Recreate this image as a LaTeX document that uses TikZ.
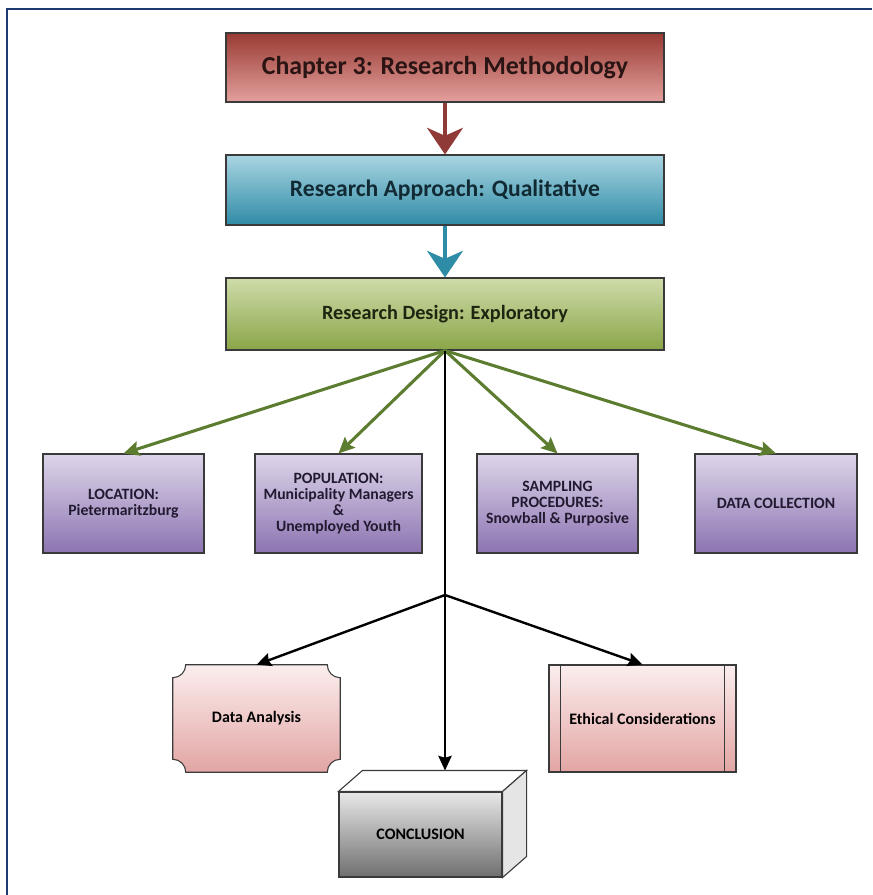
\documentclass[tikz,border=0pt]{standalone}
\usepackage{fontspec}
\setmainfont{Carlito}
\usetikzlibrary{arrows.meta,calc,backgrounds}
\definecolor{frameblue}{HTML}{1F3A72}
\definecolor{chaptop}{HTML}{9A3B34}
\definecolor{chapbot}{HTML}{E3A09D}
\definecolor{chaptext}{HTML}{2B1414}
\definecolor{apprtop}{HTML}{A9D5E2}
\definecolor{apprbot}{HTML}{2F8BA6}
\definecolor{apprtext}{HTML}{112A33}
\definecolor{destop}{HTML}{CFDCAA}
\definecolor{desbot}{HTML}{8AA548}
\definecolor{destext}{HTML}{1C2610}
\definecolor{purtop}{HTML}{DDD5EA}
\definecolor{purbot}{HTML}{8C74B1}
\definecolor{purtext}{HTML}{221A30}
\definecolor{pinktop}{HTML}{FBEEEE}
\definecolor{pinkbot}{HTML}{E2A5A3}
\definecolor{graytop}{HTML}{E8E8E8}
\definecolor{graybot}{HTML}{6F6F6F}
\definecolor{arrred}{HTML}{8F3A36}
\definecolor{arrteal}{HTML}{2F8CA6}
\definecolor{arrgreen}{HTML}{5C7C30}
\definecolor{edge}{HTML}{3A3A3A}
\begin{document}
\begin{tikzpicture}[x=0.75pt,y=-0.75pt,
  box/.style={draw=edge, line width=0.8pt, inner sep=2pt, align=center},
  topbox/.style={box, minimum width=328.5pt, minimum height=52.5pt},
  purbox/.style={box, top color=purtop, bottom color=purbot, minimum height=74.25pt,
     text=purtext, font=\bfseries\fontsize{11.8}{12}\selectfont},
  bigarrow/.style={line width=2.3pt, -{Stealth[length=20pt,width=27pt,inset=6pt]}},
  greenarrow/.style={draw=arrgreen, line width=2.3pt, -{Stealth[length=12pt,width=11pt,inset=2pt]}},
  blackarrow/.style={draw=black, line width=1.8pt, -{Stealth[length=11pt,width=10pt,inset=1.5pt]}}
]
\useasboundingbox (0,0) rectangle (872,895);
\begin{scope}[on background layer]
\fill[white] (0,0) rectangle (872,895);
\end{scope}
\draw[frameblue, line width=2pt] (7,895) -- (7,9) -- (872,9);

% top chain
\node[topbox, top color=chaptop, bottom color=chapbot, minimum height=51.75pt,
  text=chaptext, font=\bfseries\fontsize{19.4}{22}\selectfont] (chap) at (445,67.5)
  {Chapter 3: Research Methodology};
\node[topbox, top color=apprtop, bottom color=apprbot,
  text=apprtext, font=\bfseries\fontsize{17.7}{20}\selectfont] (appr) at (445,190)
  {Research Approach: Qualitative};
\node[topbox, top color=destop, bottom color=desbot, minimum height=54pt,
  text=destext, font=\bfseries\fontsize{15.2}{18}\selectfont] (design) at (445,314)
  {Research Design: Exploratory};

\draw[bigarrow, arrred] (chap.south) -- (appr.north);
\draw[bigarrow, arrteal] (appr.south) -- (design.north);

% purple row
\node[purbox, minimum width=120.75pt] (loc) at (123.5,503.5) {LOCATION:\\Pietermaritzburg};
\node[purbox, minimum width=125.25pt] (pop) at (338.5,503.5) {POPULATION:\\Municipality Managers\\\&\\Unemployed Youth};
\node[purbox, minimum width=120.75pt] (samp) at (557.5,503.5) {SAMPLING\\PROCEDURES:\\Snowball \& Purposive};
\node[purbox, minimum width=121.5pt] (dcoll) at (776,503.5) {DATA COLLECTION};

\foreach \t in {loc,pop,samp,dcoll}
  \draw[greenarrow] (design.south) -- (\t.north);

% bottom row
\node[inner sep=0pt, minimum width=125.25pt, minimum height=80.25pt,
  font=\bfseries\fontsize{12}{14}\selectfont] (anal) at (256.5,718.5) {Data Analysis};
\begin{scope}[on background layer]
\shadedraw[top color=pinktop, bottom color=pinkbot, draw=edge, line width=0.8pt]
  ($(anal.north west)+(13,0)$) -- ($(anal.north east)+(-13,0)$)
  .. controls +(0,7.2) and +(-7.2,0) .. ($(anal.north east)+(0,13)$)
  -- ($(anal.south east)+(0,-13)$)
  .. controls +(-7.2,0) and +(0,-7.2) .. ($(anal.south east)+(-13,0)$)
  -- ($(anal.south west)+(13,0)$)
  .. controls +(0,-7.2) and +(7.2,0) .. ($(anal.south west)+(0,-13)$)
  -- ($(anal.north west)+(0,13)$)
  .. controls +(7.2,0) and +(0,7.2) .. cycle;
\end{scope}

\node[box, top color=pinktop, bottom color=pinkbot, minimum width=140.25pt, minimum height=80.25pt,
  font=\bfseries\fontsize{12}{14}\selectfont] (eth) at (642.5,718.5) {Ethical Considerations};
\draw[edge, line width=0.8pt] ($(eth.north west)+(12,0)$) -- ($(eth.south west)+(12,0)$);
\draw[edge, line width=0.8pt] ($(eth.north east)+(-12,0)$) -- ($(eth.south east)+(-12,0)$);

\node[box, top color=graytop, bottom color=graybot, minimum width=122.25pt, minimum height=63.75pt,
  font=\bfseries\fontsize{12}{14}\selectfont] (concl) at (420.5,834.5) {CONCLUSION};
\filldraw[fill=white, draw=edge, line width=0.8pt] (concl.north west) -- ++(24,-21)
  -- ($(concl.north east)+(24,-21)$) -- (concl.north east) -- cycle;
\filldraw[fill=black!10, draw=edge, line width=0.8pt] (concl.north east) -- ++(24,-21)
  -- ($(concl.south east)+(24,-21)$) -- (concl.south east) -- cycle;
\coordinate (ctip) at ($(concl.north west)+(24,-21)$);
\coordinate (cend) at (design.south |- ctip);
\coordinate (j) at (445,595);

\draw[blackarrow] (design.south) -- (cend);
\draw[blackarrow] (j) -- (anal.north);
\draw[blackarrow] (j) -- (eth.north);
\end{tikzpicture}
\end{document}
